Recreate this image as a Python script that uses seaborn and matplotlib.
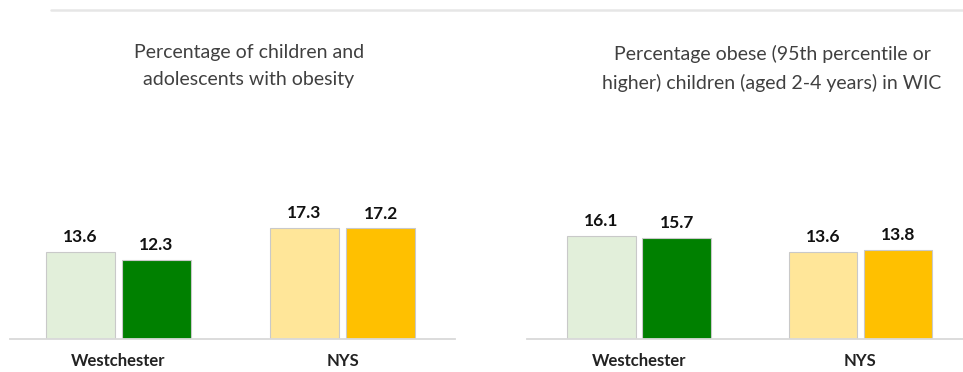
import matplotlib
matplotlib.use("Agg")
import matplotlib.pyplot as plt
import seaborn as sns
import pandas as pd

# Data
regions = ["Westchester", "NYS"]
periods = ["prior", "current"]
obesity_all = [13.6, 12.3, 17.3, 17.2]   # Westchester prior/current, NYS prior/current
obesity_wic = [16.1, 15.7, 13.6, 13.8]
titles = [
    "Percentage of children and\nadolescents with obesity",
    "Percentage obese (95th percentile or\nhigher) children (aged 2-4 years) in WIC",
]
bar_colors = {
    ("Westchester", "prior"): "#E2EFDA",
    ("Westchester", "current"): "#008000",
    ("NYS", "prior"): "#FFE699",
    ("NYS", "current"): "#FFC000",
}

sns.set_theme(style="white")
plt.rcParams["font.family"] = ["Lato", "DejaVu Sans"]

W, H = 963, 372
fig = plt.figure(figsize=(W / 100, H / 100), dpi=100)


def frame(values):
    rows = []
    i = 0
    for r in regions:
        for p in periods:
            rows.append({"region": r, "period": p, "value": values[i]})
            i += 1
    return pd.DataFrame(rows)


def panel(rect, values, xlim, title, title_x, title_y):
    l, b, r, t = rect
    ax = fig.add_axes([l / W, 1 - b / H, (r - l) / W, (b - t) / H])
    df = frame(values)
    sns.barplot(data=df, x="region", y="value", hue="period", order=regions,
                hue_order=periods, width=0.68, gap=0.09, ax=ax, legend=False,
                edgecolor="#C9C9C9", linewidth=0.8)
    for p, cont in zip(periods, ax.containers):
        for reg, bar in zip(regions, cont):
            bar.set_facecolor(bar_colors[(reg, p)])
        ax.bar_label(cont, fmt="%.1f", padding=5, fontsize=12.5,
                     fontweight="bold", color="#111111")
    ax.set_xlim(*xlim)
    ax.set_ylim(0, 37.2)
    ax.set_xlabel("")
    ax.set_ylabel("")
    ax.set_yticks([])
    for s in ["top", "right", "left"]:
        ax.spines[s].set_visible(False)
    ax.spines["bottom"].set_color("#D9D9D9")
    ax.spines["bottom"].set_linewidth(1.3)
    ax.tick_params(axis="x", length=0, pad=10, labelsize=12, labelcolor="#222222")
    for lab in ax.get_xticklabels():
        lab.set_fontweight("bold")
    fig.text(title_x / W, 1 - title_y / H, title, ha="center", va="center",
             fontsize=14, color="#404040", linespacing=1.72)
    return ax


panel((10, 339, 455, 100), obesity_all, (-0.484, 1.502), titles[0], 249, 66)
panel((527, 339, 963, 100), obesity_wic, (-0.506, 1.463), titles[1], 772, 68.5)

# thin rule along the top
fig.add_artist(plt.Line2D([51 / W, 1.0], [1 - 10 / H, 1 - 10 / H],
                          color="#E6E6E6", linewidth=1.8, transform=fig.transFigure))

fig.savefig("out.png", dpi=100, facecolor="white")
